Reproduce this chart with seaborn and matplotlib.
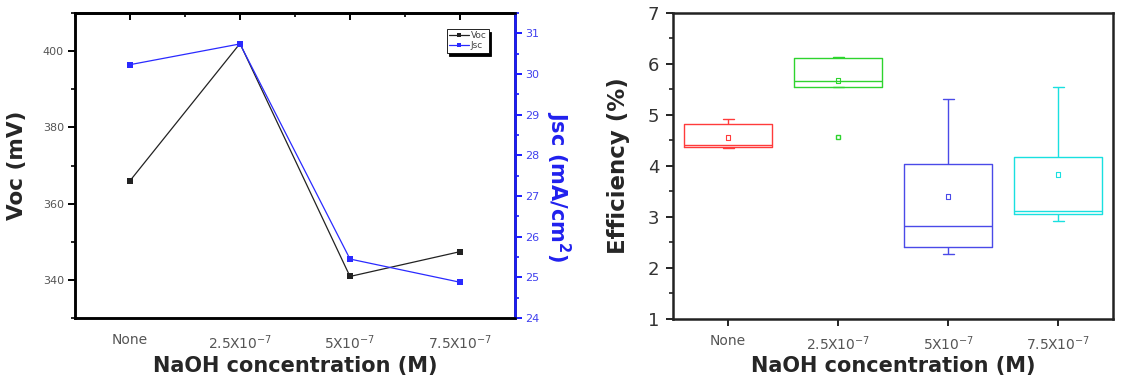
import numpy as np
import pandas as pd
import seaborn as sns
import matplotlib.pyplot as plt
from matplotlib.lines import Line2D

# values
conc = ['None', r'2.5X10$^{-7}$', r'5X10$^{-7}$', r'7.5X10$^{-7}$']
voc = [366.0, 402.0, 340.9, 347.4]          # mV
jsc = [30.23, 30.74, 25.45, 24.88]          # mA/cm2

# box values per group: low whisker, q1, median, q3, high whisker (green low point is an outlier)
eff_none = [4.36, 4.38, 4.42, 4.82, 4.93]
eff_25 = [4.57, 5.55, 5.66, 6.11, 6.14]
eff_5 = [2.28, 2.42, 2.83, 4.03, 5.31]
eff_75 = [2.93, 3.06, 3.12, 4.17, 5.55]
eff_mean = [4.56, 5.68, 3.41, 3.84]

box_colors = ['#ff3b3b', '#2ed42e', '#4a4ae8', '#19e0e0']

sns.set_theme(style='white')
plt.rcParams['font.family'] = ['DejaVu Sans']
plt.rcParams['mathtext.fontset'] = 'dejavusans'

fig = plt.figure(figsize=(11.21, 3.83), dpi=100)
ax = fig.add_axes([0.0669, 0.1697, 0.3925, 0.7963])
ax2 = ax.twinx()
bx = fig.add_axes([0.6004, 0.1671, 0.3925, 0.7990])

# %% left: Voc / Jsc

lines = pd.DataFrame({'conc': conc, 'voc': voc, 'jsc': jsc})
sns.lineplot(data=lines, x='conc', y='voc', ax=ax, color='#222222', lw=0.9,
             marker='s', markersize=5, markeredgewidth=0, sort=False)
sns.lineplot(data=lines, x='conc', y='jsc', ax=ax2, color='#2a2aff', lw=0.9,
             marker='s', markersize=5, markeredgewidth=0, sort=False)

ax.set_xlim(-0.5, 3.5)
ax.set_ylim(330, 410)
ax2.set_ylim(24, 31.47)
ax.set_yticks([340, 360, 380, 400])
ax.set_yticks(np.arange(330, 411, 10), minor=True)
ax2.set_yticks(np.arange(24, 32, 1))
ax2.set_yticks(np.arange(24, 31.6, 0.5), minor=True)
ax.set_xticks(range(4))
ax.set_xticks([-0.5, 0.5, 1.5, 2.5, 3.5], minor=True)

for s in ax.spines.values():
    s.set_linewidth(1.8)
    s.set_color('black')
for s in ax2.spines.values():
    s.set_linewidth(1.8)
    s.set_color('black')
ax2.spines['right'].set_color('#1a1aff')

ax.tick_params(axis='both', which='major', direction='out', length=5, width=1.4,
               labelsize=8, labelcolor='#555555', color='black', pad=3)
ax.tick_params(axis='both', which='minor', direction='out', length=3, width=1.2, color='black')
ax.tick_params(axis='x', labelsize=10, pad=6)
ax2.tick_params(axis='y', which='major', direction='out', length=5, width=1.4,
                labelsize=8, labelcolor='#4040ee', color='#1a1aff', pad=2)
ax2.tick_params(axis='y', which='minor', direction='out', length=3, width=1.2, color='#1a1aff')

top = ax.secondary_xaxis('top')
top.set_xticks(range(4))
top.set_xticks([-0.5, 0.5, 1.5, 2.5, 3.5], minor=True)
top.tick_params(which='both', direction='in', labeltop=False, color='black')
top.tick_params(which='major', length=5, width=1.4)
top.tick_params(which='minor', length=3, width=1.2)
top.spines['top'].set_linewidth(1.8)

ax.set_xlabel('NaOH concentration (M)', fontsize=15, fontweight='bold', labelpad=3)
ax.set_ylabel('Voc (mV)', fontsize=15.5, fontweight='bold', labelpad=11)
ax2.set_ylabel(r'Jsc (mA/cm$^\mathbf{2}$)', fontsize=15, fontweight='bold',
               color='#2020ee', rotation=270, labelpad=24)
ax2.yaxis.label.set_y(0.43)

handles = [Line2D([], [], color='#222222', lw=0.9, marker='s', markersize=3.5, mew=0),
           Line2D([], [], color='#2a2aff', lw=0.9, marker='s', markersize=3.5, mew=0)]
leg = ax2.legend(handles, ['Voc', 'Jsc'], loc='upper right', bbox_to_anchor=(0.94, 0.948),
                 fontsize=6.5, frameon=True, fancybox=False, framealpha=1,
                 edgecolor='black', borderpad=0.25, labelspacing=0.15, handlelength=2.2,
                 handletextpad=0.2, borderaxespad=0,
                 shadow={'color': 'black', 'alpha': 1})
leg.get_frame().set_linewidth(0.6)
for t in leg.get_texts():
    t.set_color('#444444')

# %% right: efficiency boxes

eff = pd.DataFrame({
    'conc': np.repeat(conc, 5),
    'eff': eff_none + eff_25 + eff_5 + eff_75,
})
means = pd.DataFrame({'conc': conc, 'eff': eff_mean})

sns.boxplot(data=eff, x='conc', y='eff', hue='conc', palette=box_colors, fill=False,
            width=0.8, linewidth=1.0, legend=False, ax=bx, capwidths=0.1,
            flierprops={'marker': 's', 'markersize': 2.5})
n0 = len(bx.collections)
sns.stripplot(data=means, x='conc', y='eff', hue='conc', palette=box_colors, jitter=False,
              marker='s', size=3.5, legend=False, ax=bx)
for coll in bx.collections[n0:]:
    fc = coll.get_facecolors()
    coll.set_edgecolors(fc)
    coll.set_facecolors('none')
    coll.set_linewidth(0.8)

bx.set_xlim(-0.5, 3.5)
bx.set_ylim(1, 7)
bx.set_yticks(range(1, 8))
bx.set_yticks(np.arange(1, 7.01, 0.5), minor=True)
for s in bx.spines.values():
    s.set_linewidth(1.8)
    s.set_color('#222222')
bx.tick_params(axis='y', which='major', direction='out', length=5, width=1.4,
               labelsize=13, labelcolor='#333333', color='#222222', pad=5, left=True)
bx.tick_params(axis='y', which='minor', direction='out', length=3, width=1.2,
               color='#222222', left=True)
bx.tick_params(axis='x', which='major', direction='out', length=5, width=1.4,
               labelsize=10, labelcolor='#555555', color='#222222', pad=6, bottom=True)
bx.set_xlabel('NaOH concentration (M)', fontsize=15, fontweight='bold', labelpad=2)
bx.set_ylabel('Efficiency (%)', fontsize=16.5, fontweight='bold', labelpad=13)

fig.savefig('out.png', dpi=100)
